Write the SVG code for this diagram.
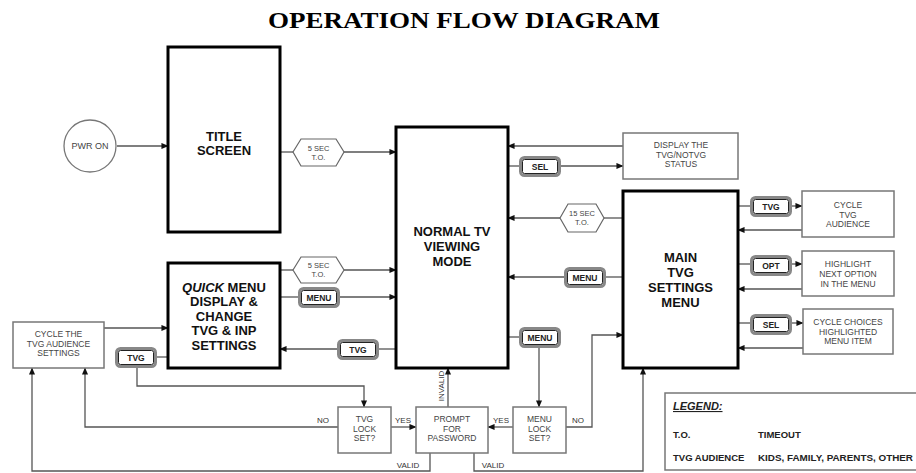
<svg xmlns="http://www.w3.org/2000/svg" xmlns:xlink="http://www.w3.org/1999/xlink" width="916" height="473" viewBox="0 0 916 473">
<style>
.bg{fill:#fff}
.big{fill:#fff;stroke:#000;stroke-width:3}
.box{fill:#fff;stroke:#777;stroke-width:1.5}
.hex{fill:#fff;stroke:#666;stroke-width:1.2}
.ln{fill:none;stroke:#555;stroke-width:1.3}
.t{font-family:"Liberation Sans",Arial,sans-serif;font-weight:bold;font-size:13px;fill:#111;text-anchor:middle}
.s{font-family:"Liberation Sans",Arial,sans-serif;font-size:8.5px;fill:#444;text-anchor:middle}
.h{font-family:"Liberation Sans",Arial,sans-serif;font-size:7.5px;fill:#444;text-anchor:middle}
.b{font-family:"Liberation Sans",Arial,sans-serif;font-weight:bold;font-size:8.5px;fill:#222;text-anchor:middle}
.lbl{font-family:"Liberation Sans",Arial,sans-serif;font-size:8px;fill:#333;text-anchor:middle}
.lg{font-family:"Liberation Sans",Arial,sans-serif;font-weight:bold;font-size:9.5px;fill:#222}
.title{font-family:"Liberation Serif","Times New Roman",serif;font-weight:bold;font-size:24px;fill:#000;text-anchor:middle}
</style>
<defs>
<marker id="ar" viewBox="0 0 8 8" refX="7.5" refY="4" markerWidth="7" markerHeight="7" markerUnits="userSpaceOnUse" orient="auto">
<path d="M0,0.5 L8,4 L0,7.5 Z" fill="#111"/>
</marker>
<g id="btn">
<rect x="1.5" y="1.5" width="39" height="18" rx="4" fill="#fff" stroke="#888" stroke-width="3"/>
<rect x="3.5" y="3.5" width="35" height="14" rx="2" fill="#fff" stroke="#222" stroke-width="1"/>
</g>
</defs>
<rect class="bg" x="0" y="0" width="916" height="473"/>
<text class="title" x="464" y="28" textLength="392" lengthAdjust="spacingAndGlyphs">OPERATION FLOW DIAGRAM</text>

<g id="connectors">
<line class="ln" x1="117" y1="146" x2="168" y2="146" marker-end="url(#ar)"/>
<line class="ln" x1="280" y1="152" x2="293" y2="152"/>
<line class="ln" x1="344" y1="152" x2="396" y2="152" marker-end="url(#ar)"/>
<line class="ln" x1="623" y1="146" x2="508" y2="146" marker-end="url(#ar)"/>
<line class="ln" x1="508" y1="166" x2="519" y2="166"/>
<line class="ln" x1="560" y1="166" x2="623" y2="166" marker-end="url(#ar)"/>
<line class="ln" x1="623" y1="218" x2="604" y2="218"/>
<line class="ln" x1="560" y1="218" x2="508" y2="218" marker-end="url(#ar)"/>
<line class="ln" x1="738" y1="206" x2="750" y2="206"/>
<line class="ln" x1="792" y1="206" x2="802" y2="206" marker-end="url(#ar)"/>
<line class="ln" x1="802" y1="230" x2="738" y2="230" marker-end="url(#ar)"/>
<line class="ln" x1="738" y1="264" x2="750" y2="264"/>
<line class="ln" x1="792" y1="264" x2="802" y2="264" marker-end="url(#ar)"/>
<line class="ln" x1="802" y1="289" x2="738" y2="289" marker-end="url(#ar)"/>
<line class="ln" x1="738" y1="323" x2="750" y2="323"/>
<line class="ln" x1="792" y1="323" x2="803" y2="323" marker-end="url(#ar)"/>
<line class="ln" x1="803" y1="348" x2="738" y2="348" marker-end="url(#ar)"/>
<line class="ln" x1="280" y1="270" x2="293" y2="270"/>
<line class="ln" x1="344" y1="270" x2="396" y2="270" marker-end="url(#ar)"/>
<line class="ln" x1="280" y1="297" x2="298" y2="297"/>
<line class="ln" x1="340" y1="297" x2="396" y2="297" marker-end="url(#ar)"/>
<line class="ln" x1="396" y1="349" x2="379" y2="349"/>
<line class="ln" x1="337" y1="349" x2="280" y2="349" marker-end="url(#ar)"/>
<line class="ln" x1="623" y1="277" x2="606" y2="277"/>
<line class="ln" x1="564" y1="277" x2="508" y2="277" marker-end="url(#ar)"/>
<line class="ln" x1="508" y1="337" x2="519" y2="337"/>
<line class="ln" x1="539" y1="348" x2="539" y2="407" marker-end="url(#ar)"/>
<line class="ln" x1="104" y1="328" x2="168" y2="328" marker-end="url(#ar)"/>
<line class="ln" x1="168" y1="357" x2="157" y2="357"/>
<polyline class="ln" points="137,368 137,386 364,386 364,407" marker-end="url(#ar)"/>
<line class="ln" x1="391" y1="427" x2="416" y2="427" marker-end="url(#ar)"/>
<line class="ln" x1="513" y1="427" x2="488" y2="427" marker-end="url(#ar)"/>
<polyline class="ln" points="566,427 592,427 592,335 623,335" marker-end="url(#ar)"/>
<polyline class="ln" points="338,427 85,427 85,368" marker-end="url(#ar)"/>
<line class="ln" x1="448" y1="407" x2="448" y2="368" marker-end="url(#ar)"/>
<polyline class="ln" points="430,453 430,471 32,471 32,368" marker-end="url(#ar)"/>
<polyline class="ln" points="474,453 474,471 643,471 643,368" marker-end="url(#ar)"/>
<text class="lbl" x="403" y="423">YES</text>
<text class="lbl" x="501" y="423">YES</text>
<text class="lbl" x="578" y="423">NO</text>
<text class="lbl" x="323" y="423">NO</text>
<text class="lbl" x="408" y="468">VALID</text>
<text class="lbl" x="493" y="468">VALID</text>
<text class="lbl" transform="translate(444,386) rotate(-90)">INVALID</text>
</g>

<g id="pwr-on">
<circle cx="90" cy="146" r="26" fill="#fff" stroke="#777" stroke-width="1.3"/>
<text class="s" x="90" y="149" style="font-size:9px">PWR ON</text>
</g>
<g id="title-screen">
<rect class="big" x="168" y="47" width="112" height="185"/>
<text class="t" x="224" y="141">TITLE</text>
<text class="t" x="224" y="155">SCREEN</text>
</g>
<g id="to-5sec-1">
<polygon class="hex" points="293,152 301,139 336,139 344,152 336,166 301,166"/>
<text class="h" x="318.5" y="151">5 SEC</text>
<text class="h" x="318.5" y="160">T.O.</text>
</g>
<g id="normal-tv">
<rect class="big" x="396" y="127" width="112" height="241"/>
<text class="t" x="452" y="236">NORMAL TV</text>
<text class="t" x="452" y="251">VIEWING</text>
<text class="t" x="452" y="266">MODE</text>
</g>
<g id="display-status">
<rect class="box" x="623" y="133" width="115" height="46"/>
<text class="s" x="681" y="148">DISPLAY THE</text>
<text class="s" x="681" y="157.5">TVG/NOTVG</text>
<text class="s" x="681" y="167">STATUS</text>
</g>
<g id="btn-sel-1">
<use xlink:href="#btn" x="519" y="156"/>
<text class="b" x="540" y="169.5">SEL</text>
</g>
<g id="to-15sec">
<polygon class="hex" points="560,218 568,204 596,204 604,218 596,232 568,232"/>
<text class="h" x="582" y="216">15 SEC</text>
<text class="h" x="582" y="225">T.O.</text>
</g>
<g id="main-menu">
<rect class="big" x="623" y="191" width="115" height="177"/>
<text class="t" x="680.5" y="262">MAIN</text>
<text class="t" x="680.5" y="277">TVG</text>
<text class="t" x="680.5" y="292">SETTINGS</text>
<text class="t" x="680.5" y="307">MENU</text>
</g>
<g id="btn-tvg-right">
<use xlink:href="#btn" x="750" y="196"/>
<text class="b" x="771" y="209.5">TVG</text>
</g>
<g id="cycle-tvg-audience">
<rect class="box" x="802" y="191" width="92" height="46"/>
<text class="s" x="848" y="208">CYCLE</text>
<text class="s" x="848" y="217.5">TVG</text>
<text class="s" x="848" y="227">AUDIENCE</text>
</g>
<g id="btn-opt">
<use xlink:href="#btn" x="750" y="255"/>
<text class="b" x="771" y="268.5">OPT</text>
</g>
<g id="highlight-next">
<rect class="box" x="802" y="251" width="92" height="45"/>
<text class="s" x="848" y="267">HIGHLIGHT</text>
<text class="s" x="848" y="277">NEXT OPTION</text>
<text class="s" x="848" y="287">IN THE MENU</text>
</g>
<g id="btn-sel-2">
<use xlink:href="#btn" x="750" y="314"/>
<text class="b" x="771" y="327.5">SEL</text>
</g>
<g id="cycle-choices">
<rect class="box" x="803" y="309" width="90" height="45"/>
<text class="s" x="848" y="325">CYCLE CHOICES</text>
<text class="s" x="848" y="334.5">HIGHLIGHTED</text>
<text class="s" x="848" y="344">MENU ITEM</text>
</g>
<g id="quick-menu">
<rect class="big" x="168" y="263" width="112" height="105"/>
<text class="t" x="224" y="292"><tspan font-style="italic">QUICK</tspan> MENU</text>
<text class="t" x="224" y="306">DISPLAY &amp;</text>
<text class="t" x="224" y="321">CHANGE</text>
<text class="t" x="224" y="335">TVG &amp; INP</text>
<text class="t" x="224" y="350">SETTINGS</text>
</g>
<g id="to-5sec-2">
<polygon class="hex" points="293,270 301,257 336,257 344,270 336,283 301,283"/>
<text class="h" x="318.5" y="268">5 SEC</text>
<text class="h" x="318.5" y="277">T.O.</text>
</g>
<g id="btn-menu-quick">
<use xlink:href="#btn" x="298" y="287"/>
<text class="b" x="319" y="300.5">MENU</text>
</g>
<g id="btn-tvg-mid">
<use xlink:href="#btn" x="337" y="339"/>
<text class="b" x="358" y="352.5">TVG</text>
</g>
<g id="btn-menu-main">
<use xlink:href="#btn" x="564" y="267"/>
<text class="b" x="585" y="280.5">MENU</text>
</g>
<g id="btn-menu-lock">
<use xlink:href="#btn" x="519" y="327"/>
<text class="b" x="540" y="340.5">MENU</text>
</g>
<g id="cycle-audience-settings">
<rect class="box" x="13" y="322" width="91" height="46"/>
<text class="s" x="58.5" y="337">CYCLE THE</text>
<text class="s" x="58.5" y="346.5">TVG AUDIENCE</text>
<text class="s" x="58.5" y="356">SETTINGS</text>
</g>
<g id="btn-tvg-left">
<use xlink:href="#btn" x="115" y="347"/>
<text class="b" x="136" y="360.5">TVG</text>
</g>
<g id="tvg-lock">
<rect class="box" x="338" y="407" width="53" height="46"/>
<text class="s" x="364.5" y="422">TVG</text>
<text class="s" x="364.5" y="431.5">LOCK</text>
<text class="s" x="364.5" y="441">SET?</text>
</g>
<g id="prompt-password">
<rect class="box" x="416" y="407" width="72" height="46"/>
<text class="s" x="452" y="422">PROMPT</text>
<text class="s" x="452" y="431.5">FOR</text>
<text class="s" x="452" y="441">PASSWORD</text>
</g>
<g id="menu-lock">
<rect class="box" x="513" y="407" width="53" height="46"/>
<text class="s" x="539.5" y="422">MENU</text>
<text class="s" x="539.5" y="431.5">LOCK</text>
<text class="s" x="539.5" y="441">SET?</text>
</g>
<g id="legend">
<rect x="665" y="393" width="260" height="77" fill="#fff" stroke="#777" stroke-width="1.5"/>
<text class="lg" x="673" y="410" style="font-size:11px;font-style:italic;text-decoration:underline">LEGEND:</text>
<text class="lg" x="673" y="438">T.O.</text>
<text class="lg" x="758" y="438">TIMEOUT</text>
<text class="lg" x="673" y="461">TVG AUDIENCE</text>
<text class="lg" x="758" y="461" textLength="155" lengthAdjust="spacingAndGlyphs">KIDS, FAMILY, PARENTS, OTHER</text>
</g>
</svg>
